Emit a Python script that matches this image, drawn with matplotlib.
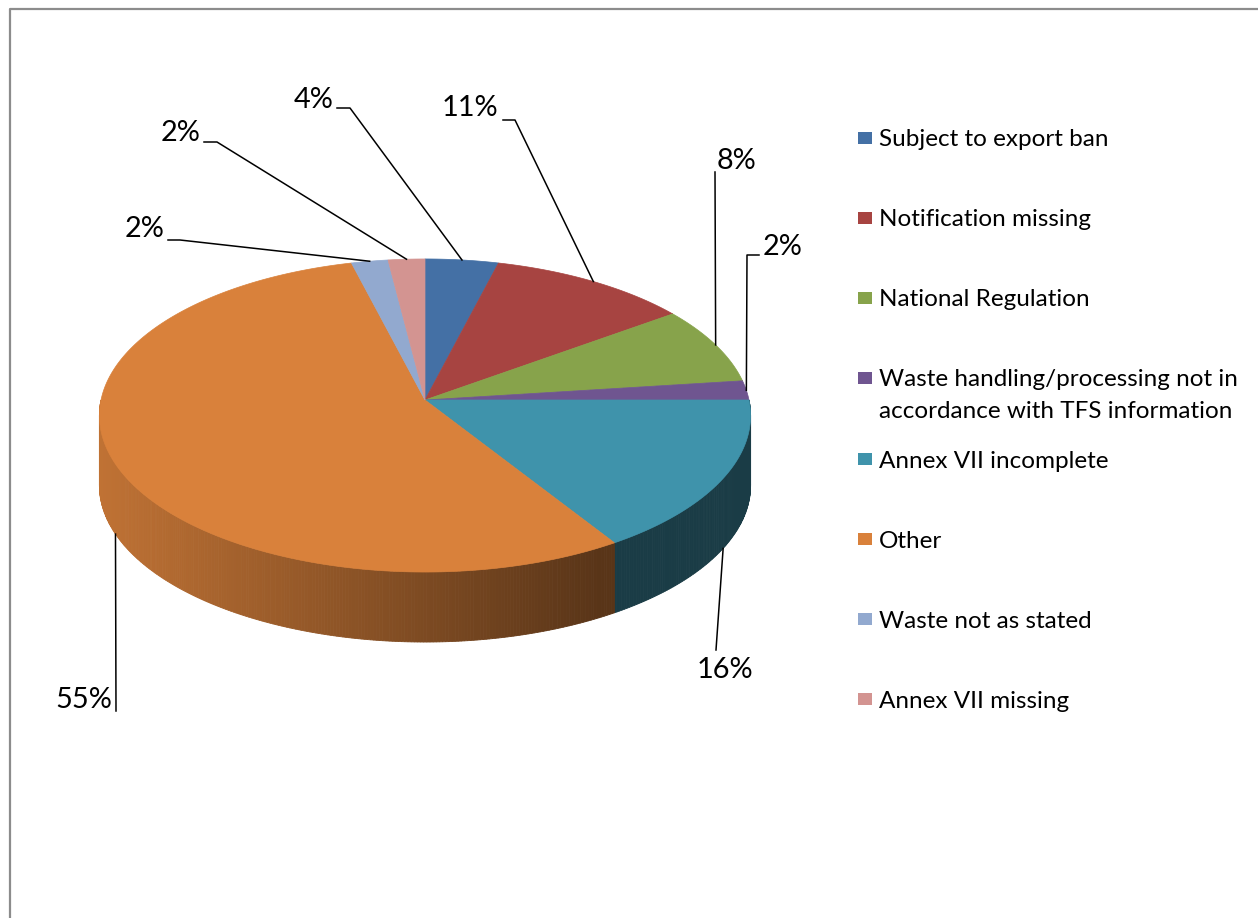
import numpy as np
import matplotlib
matplotlib.use('Agg')
import matplotlib.pyplot as plt
from matplotlib.patches import Polygon, Rectangle
from matplotlib.colors import to_rgb

# Share of infringements by type (percent)
categories = ['Subject to export ban', 'Notification missing', 'National Regulation',
              'Waste handling/processing not in\naccordance with TFS information',
              'Annex VII incomplete', 'Other', 'Waste not as stated', 'Annex VII missing']
shares = [4, 11, 8, 2, 16, 55, 2, 2]
colors = ['#4470a5', '#a74441', '#87a34b', '#6f5590',
          '#3f93ab', '#d9813b', '#92a9cf', '#d39491']

# label text centre and leader elbow points (pixels), one per slice
label_xy = [(314, 100), (470, 108), (737, 161), (783, 247),
            (725, 670), (84, 700), (145, 229), (181, 133)]
leader_pts = [[(337, 108), (350, 108)], [(503, 120), (515, 120)], [(715, 172)],
              [(759, 255), (747, 255)], [(716, 650)], [(116, 711)],
              [(168, 240), (180, 240)], [(204, 142), (217, 142)]]

W, H = 1258, 918
fig = plt.figure(figsize=(W / 100, H / 100), dpi=100)
ax = fig.add_axes([0, 0, 1, 1])
ax.set_xlim(0, W)
ax.set_ylim(H, 0)
ax.axis('off')
plt.rcParams['font.family'] = ['Lato', 'DejaVu Sans']

# pie geometry: centre, radii, perspective factor and thickness
cx, cy = 425, 400
a, b, k = 324, 155, 0.099
depth = 70


def proj(theta, drop=0.0):
    t = np.radians(theta)
    u, v = np.sin(t), np.cos(t)
    w = 1 + k * v
    return cx + a * u / w, cy - b * v / w + drop


def shade(x):
    return np.clip(0.88 - 0.48 * (x - 103) / 507, 0.41, 0.9)


total = sum(shares)
bounds = np.concatenate([[0], np.cumsum(shares)]) / total * 360

# chart border
ax.plot([10, 10, W + 5], [H + 5, 9, 9], color='#8c8c8c', lw=1.6, solid_capstyle='butt')

# visible side wall (front half), drawn in thin strips for the shading
for i, col in enumerate(colors):
    t0, t1 = max(bounds[i], 90), min(bounds[i + 1], 270)
    if t1 <= t0:
        continue
    steps = np.linspace(t0, t1, max(2, int((t1 - t0) / 0.5) + 1))
    base = np.array(to_rgb(col))
    for s0, s1 in zip(steps[:-1], steps[1:]):
        x0, y0 = proj(s0)
        x1, y1 = proj(s1)
        c = base * shade((x0 + x1) / 2)
        ax.add_patch(Polygon([(x0, y0), (x1, y1), (x1, y1 + depth), (x0, y0 + depth)],
                             closed=True, fc=c, ec=c, lw=0.6))

# top faces
for i, col in enumerate(colors):
    th = np.linspace(bounds[i], bounds[i + 1], 200)
    xs, ys = proj(th)
    pts = [(cx, cy)] + list(zip(xs, ys))
    ax.add_patch(Polygon(pts, closed=True, fc=col, ec=col, lw=0.5))

# data labels with leader lines
for i, s in enumerate(shares):
    mid = (bounds[i] + bounds[i + 1]) / 2
    front = 90 < mid < 270
    axp, ayp = proj(mid, depth if front else 0)
    path = leader_pts[i] + [(axp, ayp)]
    ax.plot([p[0] for p in path], [p[1] for p in path], color='black', lw=1.1)
    ax.text(label_xy[i][0], label_xy[i][1], f'{s}%', fontsize=20.8,
            ha='center', va='center', color='black')

# legend
rows = [138, 218, 298, 378, 459, 539, 619, 699]
for name, col, ry in zip(categories, colors, rows):
    ax.add_patch(Rectangle((858, ry - 6), 14, 12, fc=col, ec='none'))
    ax.text(879, ry - 8.5, name, fontsize=17.5, ha='left', va='top',
            color='black', linespacing=1.6)

fig.savefig('out.png', dpi=100)
